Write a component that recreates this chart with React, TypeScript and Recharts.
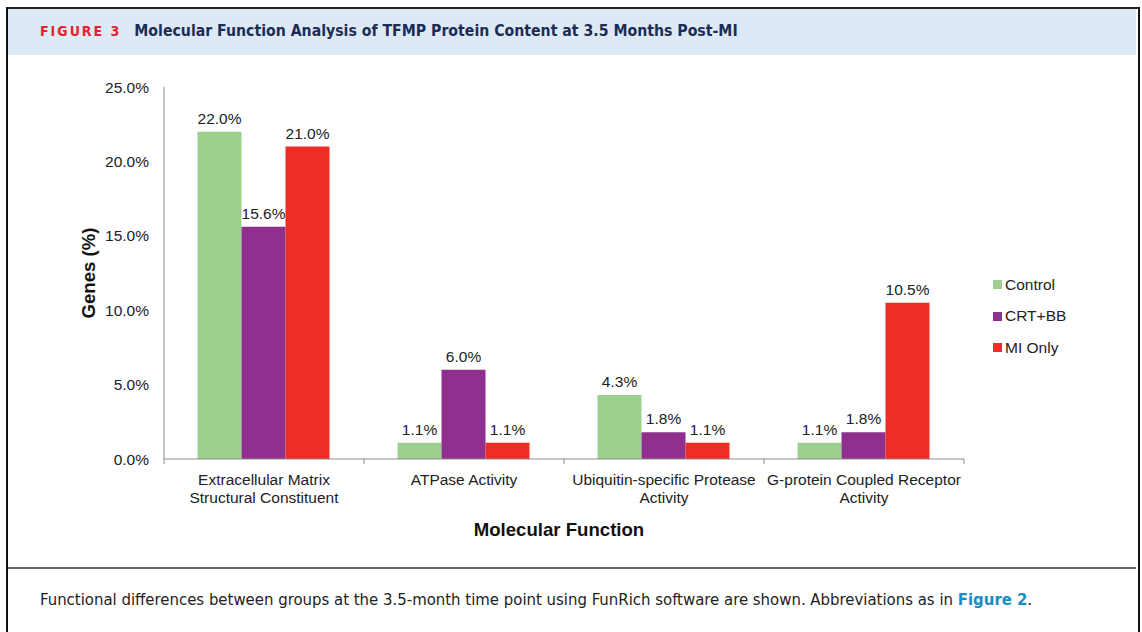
import React from 'react';
import { BarChart, Bar, XAxis, YAxis, LabelList } from 'recharts';

const categories = [
  'Extracellular Matrix\nStructural Constituent',
  'ATPase Activity',
  'Ubiquitin-specific Protease\nActivity',
  'G-protein Coupled Receptor\nActivity',
];
const control = [22.0, 1.1, 4.3, 1.1];
const crtBb = [15.6, 6.0, 1.8, 1.8];
const miOnly = [21.0, 1.1, 1.1, 10.5];
const yTicks = [0, 5, 10, 15, 20, 25];

const series = [
  { key: 'control', name: 'Control', color: '#9bd08f' },
  { key: 'crtBb', name: 'CRT+BB', color: '#8f2f8e' },
  { key: 'miOnly', name: 'MI Only', color: '#ee2d25' },
];

const data = categories.map((name, i) => ({
  name,
  control: control[i],
  crtBb: crtBb[i],
  miOnly: miOnly[i],
}));

const FONT = '"Liberation Sans", Arial, sans-serif';
const NARROW = '"Liberation Sans Narrow", "DejaVu Sans Condensed", sans-serif';
const pct = (v: any) => `${Number(v).toFixed(1)}%`;

// category labels + Excel-style tick marks on the category boundaries
const CategoryTick = (props: any) => {
  const { x, y, payload, index, visibleTicksCount, width } = props;
  const band = width / visibleTicksCount;
  const lines = String(payload.value).split('\n');
  const isLast = index === visibleTicksCount - 1;
  return (
    <g>
      <line x1={x - band / 2} x2={x - band / 2} y1={y} y2={y + 5} stroke="#8a8a8a" />
      {isLast && <line x1={x + band / 2} x2={x + band / 2} y1={y} y2={y + 5} stroke="#8a8a8a" />}
      <text x={x} y={y} textAnchor="middle" fontFamily={FONT} fontSize={15.5} fill="#222">
        {lines.map((l, i) => (
          <tspan key={i} x={x} dy={i === 0 ? 26 : 18}>
            {l}
          </tspan>
        ))}
      </text>
    </g>
  );
};

const App: React.FC = () => {
  return (
    <div style={{ position: 'absolute', left: 0, top: 0, width: 1142, height: 632, background: '#fff' }}>
      {/* frame */}
      <div style={{ position: 'absolute', left: 6, top: 7, width: 1130, height: 625, borderLeft: '2px solid #111', borderRight: '2px solid #111', borderTop: '2px solid #222' }} />
      <div style={{ position: 'absolute', left: 8, top: 9, width: 1128, height: 46, background: '#dde9f5' }} />
      <div style={{ position: 'absolute', left: 40, top: 21, whiteSpace: 'nowrap', fontFamily: NARROW, fontWeight: 700, fontSize: 15.7 }}>
        <span style={{ color: '#e3242b', letterSpacing: 2, fontSize: 14, marginRight: 13 }}>FIGURE 3</span>
        <span style={{ color: '#1b2d57' }}>Molecular Function Analysis of TFMP Protein Content at 3.5 Months Post-MI</span>
      </div>
      <div style={{ position: 'absolute', left: 8, top: 567, width: 1128, height: 2, background: '#6a6a6a' }} />
      <div style={{ position: 'absolute', left: 40, top: 590, whiteSpace: 'nowrap', fontFamily: NARROW, fontSize: 16.6, color: '#222' }}>
        Functional differences between groups at the 3.5-month time point using FunRich software are shown. Abbreviations as in{' '}
        <span style={{ color: '#1a8cc4', fontWeight: 700 }}>Figure 2</span>.
      </div>

      {/* legend */}
      <div style={{ position: 'absolute', left: 993, top: 269, fontFamily: FONT, fontSize: 15.5, color: '#222' }}>
        {series.map((s) => (
          <div key={s.key} style={{ display: 'flex', alignItems: 'center', height: 31.5 }}>
            <span style={{ width: 9, height: 9, background: s.color, marginRight: 3 }} />
            {s.name}
          </div>
        ))}
      </div>

      <div style={{ position: 'absolute', left: 8, top: 55 }}>
        <BarChart
          width={1128}
          height={513}
          data={data}
          margin={{ top: 32, right: 172, bottom: 29, left: 76 }}
          barCategoryGap="16.75%"
          barGap={0}
        >
          <XAxis
            dataKey="name"
            height={80}
            interval={0}
            tickLine={false}
            tickSize={0}
            tickMargin={0}
            axisLine={{ stroke: '#8a8a8a' }}
            tick={<CategoryTick />}
            label={{
              value: 'Molecular Function',
              position: 'insideBottom',
              offset: 3,
              dx: -5,
              style: { fontFamily: FONT, fontSize: 18.6, fontWeight: 700, fill: '#111' },
            }}
          />
          <YAxis
            width={80}
            domain={[0, 25]}
            ticks={yTicks}
            tickFormatter={pct}
            tickLine={false}
            tickSize={0}
            tickMargin={15}
            axisLine={{ stroke: '#8a8a8a' }}
            tick={{ fontFamily: FONT, fontSize: 15.5, fill: '#222' }}
            label={{
              content: ({ viewBox }: any) => {
                const cx = viewBox.x + 4;
                const cy = viewBox.y + viewBox.height / 2;
                return (
                  <text
                    x={cx}
                    y={cy}
                    transform={`rotate(-90 ${cx} ${cy})`}
                    textAnchor="middle"
                    dominantBaseline="central"
                    fontFamily={FONT}
                    fontSize={18.6}
                    fontWeight={700}
                    fill="#111"
                  >
                    Genes (%)
                  </text>
                );
              },
            }}
          />
          {series.map((s) => (
            <Bar key={s.key} dataKey={s.key} name={s.name} fill={s.color} isAnimationActive={false}>
              <LabelList
                dataKey={s.key}
                position="top"
                offset={8}
                formatter={pct}
                style={{ fontFamily: FONT, fontSize: 15.5, fill: '#222' }}
              />
            </Bar>
          ))}
        </BarChart>
      </div>
    </div>
  );
};

export default App;
